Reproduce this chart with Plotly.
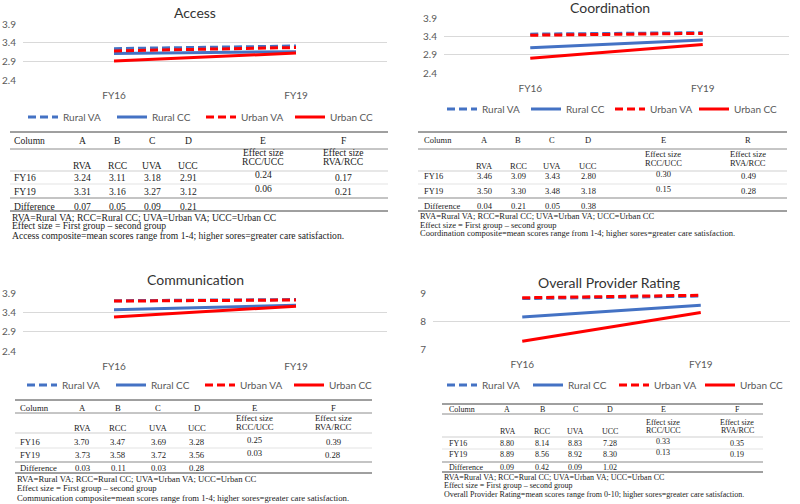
import plotly.graph_objects as go

W, H = 800, 504

# %% data
years = ["FY16", "FY19"]
series_names = ["Rural VA", "Rural CC", "Urban VA", "Urban CC"]
col_letters = ["A", "B", "C", "D", "E", "F"]
group_codes = ["RVA", "RCC", "UVA", "UCC"]

access_rva = [3.24, 3.31]
access_rcc = [3.11, 3.16]
access_uva = [3.18, 3.27]
access_ucc = [2.91, 3.12]
access_diff = [0.07, 0.05, 0.09, 0.21]
access_es_rcc_ucc = [0.24, 0.06]
access_es_rva_rcc = [0.17, 0.21]

coord_rva = [3.46, 3.50]
coord_rcc = [3.09, 3.30]
coord_uva = [3.43, 3.48]
coord_ucc = [2.80, 3.18]
coord_diff = [0.04, 0.21, 0.05, 0.38]
coord_es_rcc_ucc = [0.30, 0.15]
coord_es_rva_rcc = [0.49, 0.28]

comm_rva = [3.70, 3.73]
comm_rcc = [3.47, 3.58]
comm_uva = [3.69, 3.72]
comm_ucc = [3.28, 3.56]
comm_diff = [0.03, 0.11, 0.03, 0.28]
comm_es_rcc_ucc = [0.25, 0.03]
comm_es_rva_rcc = [0.39, 0.28]

rating_rva = [8.80, 8.89]
rating_rcc = [8.14, 8.56]
rating_uva = [8.83, 8.92]
rating_ucc = [7.28, 8.30]
rating_diff = [0.09, 0.42, 0.09, 1.02]
rating_es_rcc_ucc = [0.33, 0.13]
rating_es_rva_rcc = [0.35, 0.19]

composite_ticks = [2.4, 2.9, 3.4, 3.9]
rating_ticks = [7, 8, 9]

abbrev_note = "RVA=Rural VA; RCC=Rural CC; UVA=Urban VA; UCC=Urban CC"
effect_note = "Effect size = First group \u2013 second group"
access_note = "Access composite=mean scores range from 1-4; higher sores=greater care satisfaction."
coord_note = "Coordination composite=mean scores range from 1-4; higher sores=greater care satisfaction."
comm_note = "Communication composite=mean scores range from 1-4; higher sores=greater care satisfaction."
rating_note = "Overall Provider Rating=mean scores range from 0-10; higher sores=greater care satisfaction."

# %% styles
BLUE = "#4472C4"
RED = "#FF0000"
line_styles = [
    dict(color=BLUE, width=3, dash="8px,4px"),
    dict(color=BLUE, width=3),
    dict(color=RED, width=3, dash="8px,4px"),
    dict(color=RED, width=3),
]
SANS = "Lato"
SERIF = "Liberation Serif"


def fx(v):
    return v / W


def fy(v):
    return 1 - v / H


panels = [
    dict(title="Access", series=[access_rva, access_rcc, access_uva, access_ucc],
         diff=access_diff, es1=access_es_rcc_ucc, es2=access_es_rva_rcc, last="F",
         note=access_note, ticks=composite_ticks, rng=[2.4, 3.9],
         plot=(23, 387, 24, 80), title_xy=(195, 12), legend_xy=(23, 117), entry=44,
         tbl=dict(fs=9.6, left=12, r0=10, r1=388, cols=[82, 117, 152, 188, 263, 343],
                  col_row=140, es_a=152, es_b=162, code_row=166, fy16=177, fy19=191,
                  es_shift=3, diff_row=206, notes=[217, 226, 235],
                  rules=[132, 149, 171, 184, 198, 211])),
    dict(title="Coordination", series=[coord_rva, coord_rcc, coord_uva, coord_ucc],
         diff=coord_diff, es1=coord_es_rcc_ucc, es2=coord_es_rva_rcc, last="R",
         note=coord_note, ticks=composite_ticks, rng=[2.4, 3.9],
         plot=(444, 789, 18, 73), title_xy=(610, 8), legend_xy=(442, 109), entry=39,
         tbl=dict(fs=8.5, left=422, r0=418, r1=787, cols=[485, 518, 552, 588, 663, 748],
                  col_row=140, es_a=154, es_b=163, code_row=166, fy16=176, fy19=191,
                  es_shift=2, diff_row=206, notes=[216, 225, 233],
                  rules=[132, 149, 171, 184, 198, 211])),
    dict(title="Communication", series=[comm_rva, comm_rcc, comm_uva, comm_ucc],
         diff=comm_diff, es1=comm_es_rcc_ucc, es2=comm_es_rva_rcc, last="F",
         note=comm_note, ticks=composite_ticks, rng=[2.4, 3.9],
         plot=(23, 387, 293, 351), title_xy=(195, 279), legend_xy=(22, 385), entry=44,
         tbl=dict(fs=8.7, left=18, r0=15, r1=372, cols=[82, 118, 158, 197, 255, 333],
                  col_row=408, es_a=418, es_b=427, code_row=428, fy16=442, fy19=455,
                  es_shift=2, diff_row=468, notes=[479, 488, 498],
                  rules=[400, 413, 433, 448, 462, 473])),
    dict(title="Overall Provider Rating", series=[rating_rva, rating_rcc, rating_uva, rating_ucc],
         diff=rating_diff, es1=rating_es_rcc_ucc, es2=rating_es_rva_rcc, last="F",
         note=rating_note, ticks=rating_ticks, rng=[7, 9],
         plot=(433, 790, 293, 349), title_xy=(609, 282), legend_xy=(442, 385), entry=41,
         tbl=dict(fs=8, left=447, r0=442, r1=763, cols=[507, 542, 575, 610, 663, 737],
                  col_row=409, es_a=422, es_b=430, code_row=431, fy16=443, fy19=454,
                  es_shift=2, diff_row=467, notes=[477, 485, 494],
                  rules=[404, 414, 437, 449, 462, 472])),
]

fig = go.Figure()
annotations = []
shapes = []
layout = dict(
    width=W, height=H, autosize=False,
    margin=dict(l=0, r=0, t=0, b=0, autoexpand=False),
    paper_bgcolor="white", plot_bgcolor="white",
    showlegend=True,
)


def txt(x, y, s, size, family=SERIF, anchor="center", color="#222"):
    annotations.append(dict(
        x=fx(x), y=fy(y), xref="paper", yref="paper", text=s, showarrow=False,
        xanchor=anchor, yanchor="middle", font=dict(family=family, size=size, color=color)))


for k, p in enumerate(panels, start=1):
    sfx = "" if k == 1 else str(k)
    x0, x1, y0, y1 = p["plot"]
    for name, vals, st in zip(series_names, p["series"], line_styles):
        fig.add_trace(go.Scatter(
            x=years, y=vals, mode="lines", name=name, line=st,
            xaxis="x" + sfx, yaxis="y" + sfx, legend="legend" + sfx,
            hoverinfo="x+y+name"))

    layout["xaxis" + sfx] = dict(
        domain=[fx(x0), fx(x1)], anchor="y" + sfx, type="category",
        range=[-0.5, 1.5], showgrid=False, zeroline=False, showline=False,
        ticks="", ticklabelstandoff=8, automargin=False,
        tickfont=dict(family=SANS, size=10, color="#595959"))
    layout["yaxis" + sfx] = dict(
        domain=[fy(y1), fy(y0)], anchor="x" + sfx, range=p["rng"],
        tickvals=p["ticks"], showgrid=True, gridcolor="#d9d9d9", gridwidth=1,
        zeroline=False, showline=False, ticks="", ticklabelstandoff=6,
        automargin=False,
        tickfont=dict(family=SANS, size=10, color="#595959"))
    lx, ly = p["legend_xy"]
    layout["legend" + sfx] = dict(
        orientation="h", x=fx(lx), y=fy(ly), xanchor="left", yanchor="middle",
        xref="paper", yref="paper", bgcolor="rgba(0,0,0,0)",
        font=dict(family=SANS, size=10, color="#595959"),
        entrywidth=p["entry"], entrywidthmode="pixels",
        itemwidth=30, traceorder="normal")

    tx, ty = p["title_xy"]
    txt(tx, ty, p["title"], 14, family=SANS, color="#333")

    # table under the chart
    t = p["tbl"]
    fs = t["fs"]
    cols = t["cols"]
    txt(t["left"], t["col_row"], "Column", fs, anchor="left")
    for cx, lab in zip(cols, col_letters[:5] + [p["last"]]):
        txt(cx, t["col_row"], lab, fs)
    for cx, code in zip(cols[:4], group_codes):
        txt(cx, t["code_row"], code, fs)
    for cx, pair in zip(cols[4:], ["RCC/UCC", "RVA/RCC"]):
        txt(cx, t["es_a"], "Effect size", fs)
        txt(cx, t["es_b"], pair, fs)
    for i, (yr, ry) in enumerate(zip(years, [t["fy16"], t["fy19"]])):
        txt(t["left"], ry, yr, fs, anchor="left")
        for cx, vals in zip(cols[:4], p["series"]):
            txt(cx, ry, f"{vals[i]:.2f}", fs)
        txt(cols[4], ry - t["es_shift"], f"{p['es1'][i]:.2f}", fs)
        txt(cols[5], ry, f"{p['es2'][i]:.2f}", fs)
    txt(t["left"], t["diff_row"], "Difference", fs, anchor="left")
    for cx, d in zip(cols[:4], p["diff"]):
        txt(cx, t["diff_row"], f"{d:.2f}", fs)
    for ny, note in zip(t["notes"], [abbrev_note, effect_note, p["note"]]):
        txt(t["r0"], ny, note, fs, anchor="left")

    rule_styles = [("#404040", 1), ("#8c8c8c", 1), ("#cfcfcf", 1),
                   ("#e3e3e3", 1), ("#c4c4c4", 2), ("#404040", 1)]
    for ry, (rc, rw) in zip(t["rules"], rule_styles):
        shapes.append(dict(type="line", xref="paper", yref="paper",
                           x0=fx(t["r0"]), x1=fx(t["r1"]), y0=fy(ry), y1=fy(ry),
                           line=dict(color=rc, width=rw)))

layout["annotations"] = annotations
layout["shapes"] = shapes
fig.update_layout(**layout)

fig.write_html("out.html", config={"displayModeBar": False},
               post_script="document.body.style.margin='0px';")
